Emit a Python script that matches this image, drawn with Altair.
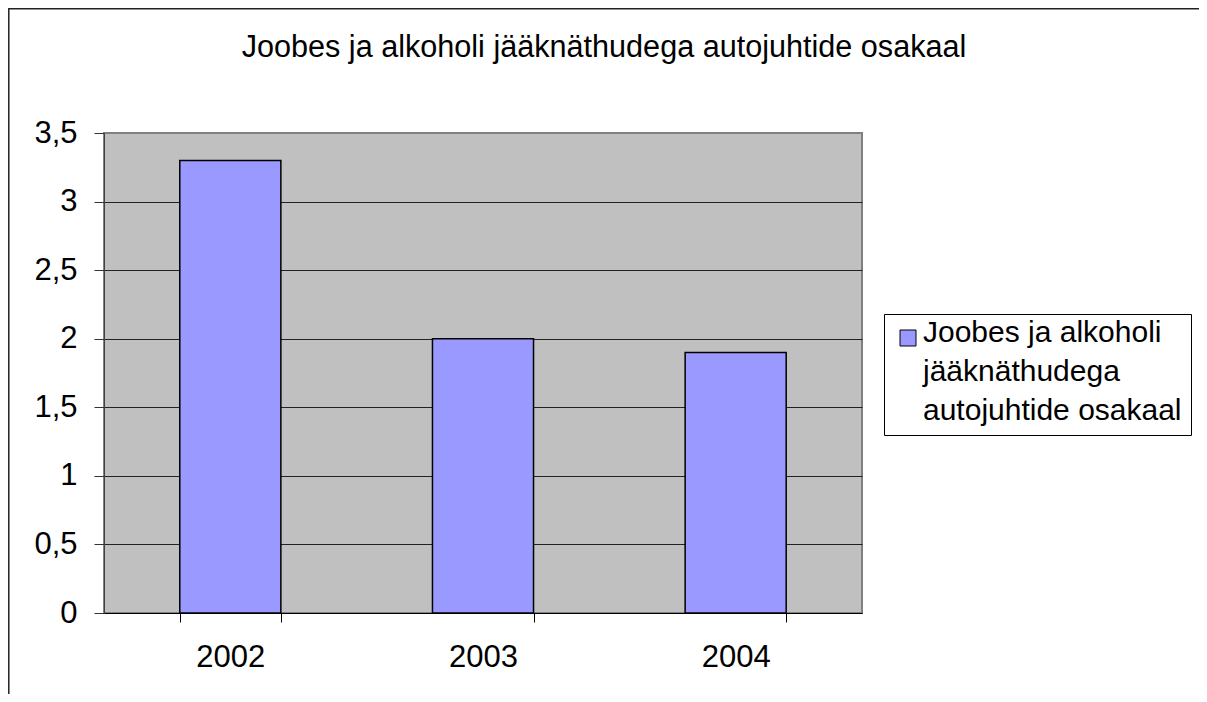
import json
import altair as alt
import pandas as pd

TITLE = "Joobes ja alkoholi jääknäthudega autojuhtide osakaal"
LEGEND_LINES = ["Joobes ja alkoholi", "jääknäthudega", "autojuhtide osakaal"]
YEARS = ["2002", "2003", "2004"]
VALUES = [3.3, 2.0, 1.9]
Y_TICKS = [0, 0.5, 1, 1.5, 2, 2.5, 3, 3.5]

SERIES = " ".join(LEGEND_LINES)
df = pd.DataFrame({"year": YEARS, "value": VALUES, "series": [SERIES] * len(YEARS)})

FONT = "Liberation Sans"
FS = 31
LABEL_DY = -20  # shifts legend labels so the first line sits beside the swatch

bars = alt.Chart(df).mark_bar(stroke="black", strokeWidth=1.5).encode(
    x=alt.X(
        "year:N", title=None,
        scale=alt.Scale(paddingInner=0.6, paddingOuter=0.3),
        axis=alt.Axis(labelAngle=0, tickBand="extent", grid=False, tickSize=9,
                      tickColor="black", domainColor="black",
                      labelPadding=20 - LABEL_DY,
                      labelFontSize=FS, labelFont=FONT, labelColor="black"),
    ),
    y=alt.Y(
        "value:Q", title=None,
        scale=alt.Scale(domain=[0, 3.5], nice=False),
        axis=alt.Axis(values=Y_TICKS, format="~g",
                      labelExpr="replace(datum.label, '.', ',')",
                      grid=True,
                      gridColor={"condition": {"test": "datum.value >= 3.5", "value": "#808080"}, "value": "#222222"},
                      gridWidth=1, tickSize=10, tickColor="#333333",
                      domainColor="#404040", labelPadding=17,
                      labelOffset=-LABEL_DY,
                      labelFontSize=FS, labelFont=FONT, labelColor="black"),
    ),
    color=alt.Color(
        "series:N", scale=alt.Scale(range=["#9999FF"]),
        legend=alt.Legend(title=None, orient="none", legendX=780, legendY=181,
                          labelExpr=json.dumps(LEGEND_LINES, ensure_ascii=False),
                          labelFontSize=30, labelFont=FONT, labelColor="black",
                          labelLimit=600, symbolType="square", symbolSize=256,
                          symbolStrokeColor="black", symbolStrokeWidth=1,
                          symbolFillColor="#9999FF",
                          strokeColor="black", fillColor="white", padding=9,
                          labelBaseline="top", labelOffset=0),
    ),
)

frame = alt.Chart(alt.Data(values=[{}])).mark_rect(
    fill=None, stroke="#222222", strokeWidth=1.5, clip=False
).encode(
    x=alt.value(-95.2), x2=alt.value(1400), y=alt.value(-124.2), y2=alt.value(900)
)

chart = alt.layer(frame, bars).properties(
    width=758, height=480,
    title=alt.TitleParams(TITLE, fontSize=30.6, font=FONT, fontWeight="normal",
                          color="black", anchor="middle", frame="group",
                          dx=121, dy=80, offset=0, baseline="alphabetic"),
    autosize=alt.AutoSizeParams(type="none"),
    padding={"left": 96, "top": 125, "right": 337, "bottom": 81},
).configure(
    background="white",
    view=alt.ViewConfig(fill="#C0C0C0", stroke="#808080", strokeWidth=2),
    style={"guide-label": {"lineHeight": 39, "dy": LABEL_DY}},
)

chart.save("out.html", embed_options={"renderer": "svg", "actions": False})
